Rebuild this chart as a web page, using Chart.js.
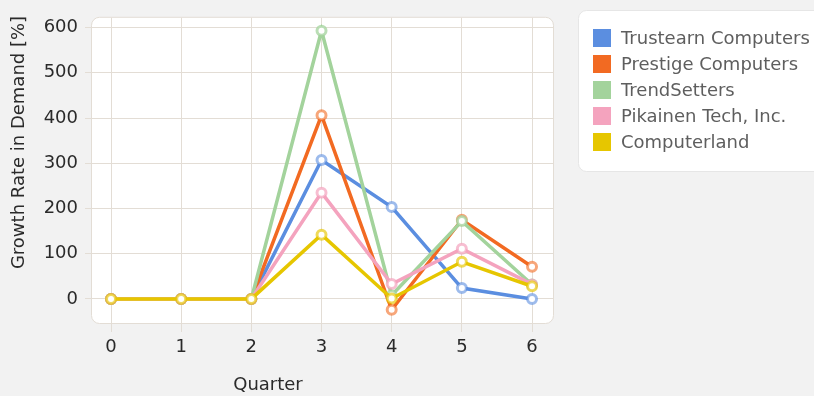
<!DOCTYPE html>
<html>
<head>
<meta charset="utf-8">
<script src="https://cdn.jsdelivr.net/npm/chart.js@4/dist/chart.umd.min.js"></script>
<style>
  html, body { margin: 0; padding: 0; background: #f2f2f2; }
  #wrap { width: 814px; height: 396px; }
</style>
</head>
<body>
<div id="wrap"><canvas id="c" width="814" height="396"></canvas></div>
<script>
// Quarters on the x axis and the growth rate per company
const quarters = [0, 1, 2, 3, 4, 5, 6];
const rateTicks = [0, 100, 200, 300, 400, 500, 600];

const companies = ['Trustearn Computers', 'Prestige Computers', 'TrendSetters', 'Pikainen Tech, Inc.', 'Computerland'];
const trustearn    = [0, 0, 0, 307, 203, 24, 0];
const prestige     = [0, 0, 0, 406, -24, 175, 71];
const trendSetters = [0, 0, 0, 593, 8, 172, 32];
const pikainen     = [0, 0, 0, 235, 33, 111, 32];
const computerland = [0, 0, 0, 142, 1, 82, 28];

const seriesValues = [trustearn, prestige, trendSetters, pikainen, computerland];
const lineColors  = ['#5b8ee0', '#f26a22', '#a3d39c', '#f4a3be', '#e6c600'];
const pointColors = ['rgba(91,142,224,0.6)', 'rgba(242,106,34,0.6)', 'rgba(163,211,156,0.75)', 'rgba(244,163,190,0.7)', 'rgba(230,198,0,0.65)'];

const FONT = '"DejaVu Sans", Verdana, sans-serif';
const GRID = '#e3ddd5';

// white rounded plot panel behind the grid
const panelPlugin = {
  id: 'panel',
  beforeDraw(chart) {
    const { ctx, chartArea: a } = chart;
    ctx.save();
    ctx.fillStyle = '#f2f2f2';
    ctx.fillRect(0, 0, chart.width, chart.height);
    ctx.beginPath();
    ctx.roundRect(a.left - 0.5, a.top - 0.5, a.right - a.left + 1, a.bottom - a.top + 1, 8);
    ctx.fillStyle = '#ffffff';
    ctx.fill();
    ctx.strokeStyle = GRID;
    ctx.lineWidth = 1;
    ctx.stroke();
    ctx.restore();
  }
};

// axis titles and the boxed legend on the right
const decorPlugin = {
  id: 'decor',
  afterDraw(chart) {
    const { ctx } = chart;
    ctx.save();
    ctx.fillStyle = '#2a2a2a';
    ctx.font = '18px ' + FONT;
    ctx.textAlign = 'center';
    ctx.textBaseline = 'middle';
    ctx.fillText('Quarter', 268, 385);
    ctx.translate(19, 142.5);
    ctx.rotate(-Math.PI / 2);
    ctx.fillText('Growth Rate in Demand [%]', 0, 0);
    ctx.restore();

    ctx.save();
    ctx.beginPath();
    ctx.roundRect(578.5, 10.5, 260, 161, 8);
    ctx.fillStyle = '#ffffff';
    ctx.fill();
    ctx.strokeStyle = '#e6e6e6';
    ctx.lineWidth = 1;
    ctx.stroke();
    ctx.font = '18px ' + FONT;
    ctx.textAlign = 'left';
    ctx.textBaseline = 'middle';
    chart.data.datasets.forEach((ds, i) => {
      const cy = 38 + i * 26;
      ctx.fillStyle = ds.borderColor;
      ctx.fillRect(593, cy - 9, 18, 18);
      ctx.fillStyle = '#5e5e5e';
      ctx.fillText(ds.label, 621, cy + 1);
    });
    ctx.restore();
  }
};

const datasets = companies.map((name, i) => ({
  label: name,
  data: seriesValues[i],
  borderColor: lineColors[i],
  backgroundColor: lineColors[i],
  borderWidth: 3.5,
  pointRadius: 4.5,
  pointHoverRadius: 4.5,
  pointBorderWidth: 3,
  pointBackgroundColor: '#ffffff',
  pointBorderColor: pointColors[i],
  tension: 0,
  order: companies.length - i
}));

new Chart(document.getElementById('c'), {
  type: 'line',
  data: { labels: quarters, datasets },
  plugins: [panelPlugin, decorPlugin],
  options: {
    responsive: false,
    animation: false,
    events: [],
    layout: { padding: { left: 0, right: 261, top: 10, bottom: 0 } },
    plugins: { legend: { display: false }, tooltip: { enabled: false } },
    scales: {
      x: {
        type: 'linear',
        min: -0.271,
        max: 6.299,
        afterBuildTicks(scale) { scale.ticks = quarters.map(v => ({ value: v })); },
        afterFit(scale) { scale.height = 73; },
        border: { display: false },
        grid: { color: GRID, lineWidth: 1, tickLength: 9, drawTicks: true },
        ticks: { color: '#2a2a2a', font: { family: FONT, size: 18 }, padding: 5, maxRotation: 0 }
      },
      y: {
        type: 'linear',
        min: -53.3,
        max: 621.6,
        afterBuildTicks(scale) { scale.ticks = rateTicks.map(v => ({ value: v })); },
        afterFit(scale) { scale.width = 92; },
        border: { display: false },
        grid: { color: GRID, lineWidth: 1, tickLength: 7, drawTicks: true },
        ticks: { color: '#2a2a2a', font: { family: FONT, size: 18 }, padding: 7 }
      }
    }
  }
});
</script>
</body>
</html>
